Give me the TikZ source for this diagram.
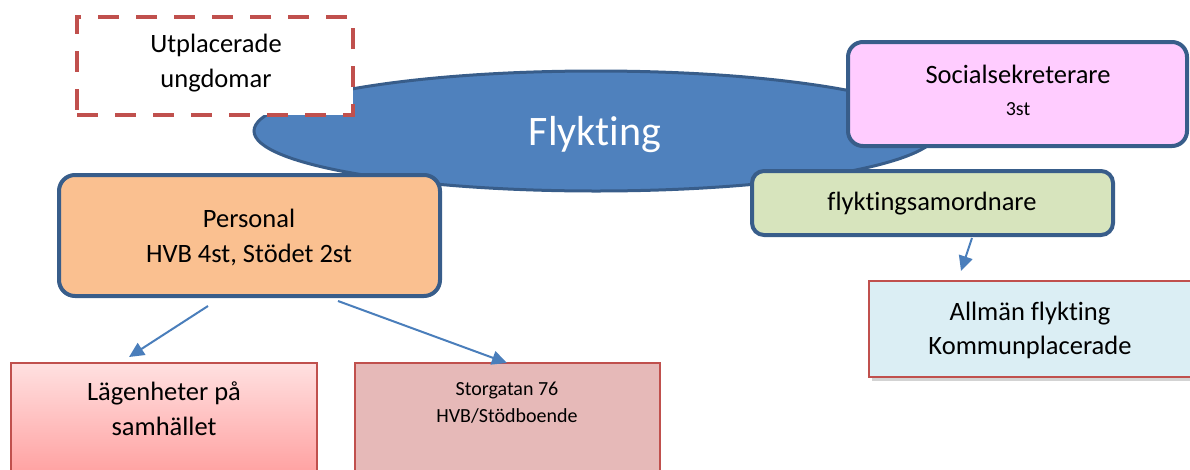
\documentclass[tikz,border=0pt]{standalone}
\usepackage{fontspec}
\setmainfont{Carlito}[Ligatures={NoCommon,NoContextual}]
\usetikzlibrary{shapes.geometric,arrows.meta,shadows}
\definecolor{elfill}{HTML}{4F81BD}
\definecolor{bdblue}{HTML}{385D8A}
\definecolor{bdred}{HTML}{C0504D}
\definecolor{orfill}{HTML}{FAC090}
\definecolor{pkfill}{HTML}{FFCCFF}
\definecolor{grfill}{HTML}{D7E4BD}
\definecolor{lbfill}{HTML}{DBEEF4}
\definecolor{rsfill}{HTML}{E6B9B8}
\definecolor{arrblue}{HTML}{4A7EBB}
\begin{document}
\begin{tikzpicture}[x=1pt,y=-1pt,
  bluebox/.style={draw=bdblue, line width=4pt, rounded corners=16pt, inner sep=0pt, outer sep=0pt},
  redbox/.style={draw=bdred, line width=2pt, inner sep=0pt, outer sep=0pt},
  txt/.style={anchor=base, inner sep=0pt, font=\fontsize{26.5}{31}\selectfont},
  smalltxt/.style={anchor=base, inner sep=0pt, font=\fontsize{20}{24}\selectfont},
  conn/.style={draw=arrblue, line width=2pt, -{Triangle[length=15pt,width=14pt]}}
]
\useasboundingbox (0,0) rectangle (1190,469);
% central ellipse
\node[ellipse, draw=bdblue, fill=elfill, line width=3pt, minimum width=684pt, minimum height=120pt, inner sep=0pt] (ell) at (596,131) {};
\node[anchor=base, inner sep=0pt, text=white, font=\fontsize{42}{50}\selectfont] (tfl) at (595,145) {Flykting};
% dashed box
\node[draw=bdred, fill=white, line width=4pt, dash pattern=on 21pt off 17pt, minimum width=276pt, minimum height=98pt, inner sep=0pt] (utp) at (215,66) {};
\node[txt] (tutp1) at (216,52) {Utplacerade};
\node[txt] (tutp2) at (216,87) {ungdomar};
% Personal
\node[bluebox, fill=orfill, minimum width=381pt, minimum height=121pt] (pers) at (249.5,235.5) {};
\node[txt] (tpers1) at (249,227) {Personal};
\node[txt] (tpers2) at (249,262) {HVB 4st, Stödet 2st};
% Socialsekreterare
\node[bluebox, fill=pkfill, rounded corners=15pt, minimum width=339pt, minimum height=104pt] (soc) at (1017.5,94) {};
\node[txt] (tsoc1) at (1018,83) {Socialsekreterare};
\node[smalltxt] (tsoc2) at (1018,115) {3st};
% flyktingsamordnare
\node[bluebox, fill=grfill, rounded corners=12pt, minimum width=361pt, minimum height=64pt] (fsam) at (932.5,203) {};
\node[txt] (tfsam) at (932,210) {flyktingsamordnare};
% Allman flykting
\node[redbox, fill=lbfill, minimum width=336pt, minimum height=96pt, drop shadow={shadow xshift=3pt, shadow yshift=-4pt, opacity=0.35}] (allm) at (1037,329) {};
\node[txt] (tallm1) at (1030,320) {Allmän flykting};
\node[txt] (tallm2) at (1030,354) {Kommunplacerade};
% Lagenheter
\node[redbox, top color=red!12!white, bottom color=red!38!white, minimum width=306pt, minimum height=116pt] (lag) at (164,421) {};
\node[txt] (tlag1) at (164,400) {Lägenheter på};
\node[txt] (tlag2) at (164,435) {samhället};
% Storgatan
\node[redbox, fill=rsfill, minimum width=305pt, minimum height=116pt] (stor) at (507.5,421) {};
\node[smalltxt] (tstor1) at (507,395) {Storgatan 76};
\node[smalltxt] (tstor2) at (507,422) {HVB/Stödboende};
% connectors
\coordinate (p1s) at (208,306);
\coordinate (p1e) at (129,357);
\coordinate (p2s) at (338,301);
\coordinate (p2e) at (507,363);
\coordinate (f1s) at (972,238);
\coordinate (f1e) at (961,271);
\draw[conn] (p1s) -- (p1e);
\draw[conn] (p2s) -- (p2e);
\draw[conn] (f1s) -- (f1e);
\end{tikzpicture}
\end{document}
